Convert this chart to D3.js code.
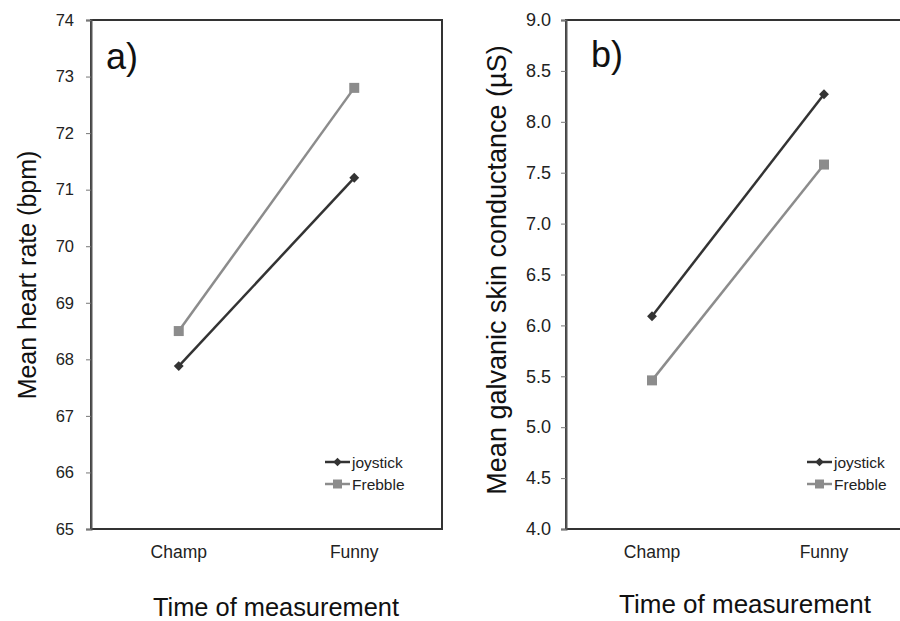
<!DOCTYPE html>
<html>
<head>
<meta charset="utf-8">
<script src="https://cdn.jsdelivr.net/npm/d3@7"></script>
<style>
body { margin: 0; background: #fff; }
svg { font-family: "Liberation Sans", Arial, sans-serif; }
</style>
</head>
<body>
<svg id="chart" width="900" height="621"></svg>
<script>
var times = ["Champ", "Funny"];
var seriesNames = ["joystick", "Frebble"];

var hrJoystick = [67.88, 71.21];
var hrFrebble = [68.5, 72.8];
var hrTicks = [65, 66, 67, 68, 69, 70, 71, 72, 73, 74];

var gscJoystick = [6.09, 8.27];
var gscFrebble = [5.46, 7.58];
var gscTicks = [4.0, 4.5, 5.0, 5.5, 6.0, 6.5, 7.0, 7.5, 8.0, 8.5, 9.0];

var svg = d3.select("#chart");

var colors = { joystick: "#333333", Frebble: "#8c8c8c" };

function panel(opts) {
    var g = svg.append("g");
    var x = d3.scalePoint().domain(times).range([opts.left, opts.right]).padding(0.5);
    var y = d3.scaleLinear().domain(opts.domain).range([opts.bottom, opts.top]);

    // plot border
    g.append("rect")
        .attr("x", opts.left).attr("y", opts.top)
        .attr("width", opts.right - opts.left).attr("height", opts.bottom - opts.top)
        .attr("fill", "none").attr("stroke", "#333").attr("stroke-width", 2);

    var yAxis = g.append("g")
        .attr("transform", "translate(" + opts.left + ",0)")
        .call(d3.axisLeft(y).tickValues(opts.ticks).tickSize(5).tickPadding(opts.tickPad)
            .tickFormat(opts.fmt));
    yAxis.select(".domain").attr("stroke", "#555").attr("stroke-width", 2);
    yAxis.selectAll(".tick line").attr("stroke", "#777");
    yAxis.selectAll(".tick text").attr("font-size", opts.tickFont).attr("fill", "#222")
        .attr("font-family", "Liberation Sans, Arial, sans-serif");

    // category labels
    g.selectAll(".cat").data(times).enter().append("text")
        .attr("x", function (d) { return x(d); })
        .attr("y", opts.bottom + 29)
        .attr("text-anchor", "middle")
        .attr("font-size", 17.5).attr("fill", "#222")
        .text(function (d) { return d; });

    var line = d3.line()
        .x(function (d, i) { return x(times[i]); })
        .y(function (d) { return y(d); });

    var series = [
        { name: "Frebble", values: opts.frebble },
        { name: "joystick", values: opts.joystick }
    ];

    series.forEach(function (s) {
        g.append("path")
            .attr("d", line(s.values))
            .attr("fill", "none")
            .attr("stroke", colors[s.name])
            .attr("stroke-width", 2.5);
        g.selectAll(".m-" + s.name).data(s.values).enter().append("path")
            .attr("transform", function (d, i) {
                return "translate(" + x(times[i]) + "," + y(d) + ")" + (s.name == "joystick" ? " rotate(45)" : "");
            })
            .attr("d", s.name == "joystick" ? "M-3.5,-3.5H3.5V3.5H-3.5Z" : "M-5,-5H5V5H-5Z")
            .attr("fill", colors[s.name]);
    });

    // legend
    seriesNames.forEach(function (n, i) {
        var ly = opts.legendY + i * 22;
        var lg = g.append("g");
        lg.append("line")
            .attr("x1", opts.legendX).attr("x2", opts.legendX + 25)
            .attr("y1", ly).attr("y2", ly)
            .attr("stroke", colors[n]).attr("stroke-width", 2.5);
        lg.append("path")
            .attr("transform", "translate(" + (opts.legendX + 12.5) + "," + ly + ")" + (n == "joystick" ? " rotate(45)" : ""))
            .attr("d", n == "joystick" ? "M-3,-3H3V3H-3Z" : "M-4.5,-4.5H4.5V4.5H-4.5Z")
            .attr("fill", colors[n]);
        lg.append("text")
            .attr("x", opts.legendX + 27).attr("y", ly + 5.5)
            .attr("font-size", 15.5).attr("fill", "#222")
            .text(n);
    });

    // panel letter
    g.append("text")
        .attr("x", opts.letterX).attr("y", opts.letterY)
        .attr("font-size", 36).attr("fill", "#111")
        .text(opts.letter);

    // axis titles
    g.append("text")
        .attr("transform", "translate(" + opts.yTitleX + "," + opts.yTitleY + ") rotate(-90)")
        .attr("text-anchor", "middle")
        .attr("font-size", opts.yTitleFont).attr("fill", "#111")
        .text(opts.yTitle);

    g.append("text")
        .attr("x", opts.xTitleX).attr("y", opts.xTitleY)
        .attr("text-anchor", "middle")
        .attr("font-size", opts.xTitleFont).attr("fill", "#111")
        .text("Time of measurement");
}

panel({
    left: 91, right: 442, top: 20, bottom: 529,
    domain: [65, 74], ticks: hrTicks, fmt: d3.format("d"),
    tickFont: 16.5, tickPad: 12,
    joystick: hrJoystick, frebble: hrFrebble,
    legendX: 325, legendY: 462,
    letter: "a)", letterX: 106, letterY: 69,
    yTitle: "Mean heart rate (bpm)", yTitleX: 36, yTitleY: 275, yTitleFont: 25,
    xTitleX: 276, xTitleY: 616, xTitleFont: 25.4
});

panel({
    left: 566, right: 910, top: 20, bottom: 529,
    domain: [4, 9], ticks: gscTicks, fmt: d3.format(".1f"),
    tickFont: 18, tickPad: 10,
    joystick: gscJoystick, frebble: gscFrebble,
    legendX: 807, legendY: 462,
    letter: "b)", letterX: 591, letterY: 67,
    yTitle: "Mean galvanic skin conductance (µS)", yTitleX: 506, yTitleY: 270, yTitleFont: 27,
    xTitleX: 745, xTitleY: 613, xTitleFont: 26
});
</script>
</body>
</html>
